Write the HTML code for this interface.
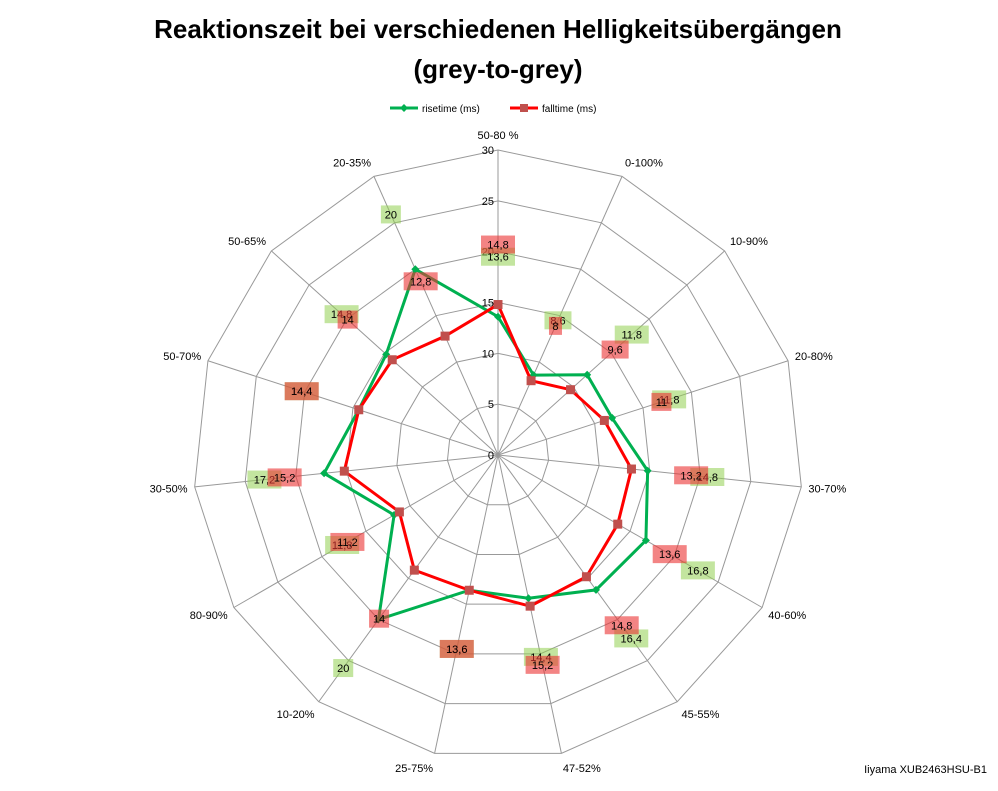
<!DOCTYPE html>
<html><head><meta charset="utf-8"><style>
body{margin:0;background:#fff;width:998px;height:786px;overflow:hidden;font-family:"Liberation Sans",sans-serif}
</style></head><body>
<svg id="c" width="998" height="786" xmlns="http://www.w3.org/2000/svg">
<text x="498" y="38" text-anchor="middle" font-size="26" font-weight="bold">Reaktionszeit bei verschiedenen Helligkeitsübergängen</text>
<text x="498" y="78" text-anchor="middle" font-size="26" font-weight="bold">(grey-to-grey)</text>
<g>
<g><line x1="390" y1="108" x2="418" y2="108" stroke="#00b050" stroke-width="3"/><path d="M404 104l4 4-4 4-4-4z" fill="#00b050"/><text x="422" y="112" font-size="10">risetime (ms)</text></g>
<g><line x1="510" y1="108" x2="538" y2="108" stroke="#ff0000" stroke-width="3"/><rect x="520" y="104" width="8" height="8" fill="#c0504d"/><text x="542" y="112" font-size="10">falltime (ms)</text></g>
</g>
<g id="grid"></g><g id="series"></g><g id="labels"></g>
<text x="987" y="773" text-anchor="end" font-size="11">Iiyama XUB2463HSU-B1</text>
</svg>
<script>
const categories=["50-80 %","0-100%","10-90%","20-80%","30-70%","40-60%","45-55%","47-52%","25-75%","10-20%","80-90%","30-50%","50-70%","50-65%","20-35%"];
const risetime=[13.6,8.6,11.8,11.8,14.8,16.8,16.4,14.4,13.6,20,11.8,17.2,14.4,14.8,20];
const falltime=[14.8,8,9.6,11,13.2,13.6,14.8,15.2,13.6,14,11.2,15.2,14.4,14,12.8];
const ticks=[0,5,10,15,20,25,30];
const NS="http://www.w3.org/2000/svg";
const cx=498,cy=455,R=305,maxV=30,n=categories.length;
function pt(i,v){const a=i*2*Math.PI/n;const r=v/maxV*R;return [cx+r*Math.sin(a),cy-r*Math.cos(a)];}
function mk(tag,attrs,parent){const e=document.createElementNS(NS,tag);for(const k in attrs)e.setAttribute(k,attrs[k]);parent.appendChild(e);return e;}
const grid=document.getElementById('grid'),ser=document.getElementById('series'),lab=document.getElementById('labels');
ticks.forEach(t=>{if(t===0)return;const p=categories.map((c,i)=>pt(i,t).join(',')).join(' ');
const g=mk('polygon',{points:p,fill:'none',stroke:'#999','stroke-width':1},grid);

});
categories.forEach((c,i)=>{const [x,y]=pt(i,maxV);const l=mk('line',{x1:cx,y1:cy,x2:x,y2:y,stroke:'#999','stroke-width':1},grid);


const a=i*2*Math.PI/n;const s=Math.sin(a),co=Math.cos(a);
const [lx,ly]=pt(i,maxV+0.7);
const anc=s>0.2?'start':s<-0.2?'end':'middle';
const dy=4-co*8;
const tx=mk('text',{x:lx,y:ly+dy,'text-anchor':anc,'font-size':11},grid);tx.textContent=c;

});
ticks.forEach(t=>{const [x,y]=pt(0,t);const tx=mk('text',{x:x-4,y:y+4,'text-anchor':'end','font-size':11},grid);tx.textContent=t;

});
function series(vals,color,name,square){
const p=vals.map((v,i)=>pt(i,v).join(',')).join(' ');
const pl=mk('polygon',{points:p,fill:'none',stroke:color,'stroke-width':3},ser);


vals.forEach((v,i)=>{const [x,y]=pt(i,v);let m;
if(square)m=mk('rect',{x:x-4.5,y:y-4.5,width:9,height:9,fill:'#c0504d'},ser);
else m=mk('path',{d:`M${x} ${y-4}l4 4-4 4-4-4z`,fill:color},ser);

});}
series(risetime,'#00b050','risetime',false);
series(falltime,'#ff0000','falltime',true);
function labels(vals,fill,name){vals.forEach((v,i)=>{const a=i*2*Math.PI/n;const r=v/maxV*R+60;const x=cx+r*Math.sin(a),y=cy-r*Math.cos(a);
const s=String(v).replace('.',',');const w=s.length*7+6;
const b=mk('rect',{x:x-w/2,y:y-9,width:w,height:18,fill:fill},lab);


const t=mk('text',{x:x,y:y+4,'text-anchor':'middle','font-size':11},lab);t.textContent=s;

});}
labels(risetime,'rgba(146,208,80,0.55)','risetime');
labels(falltime,'rgba(235,50,50,0.6)','falltime');
</script>
</body></html>
